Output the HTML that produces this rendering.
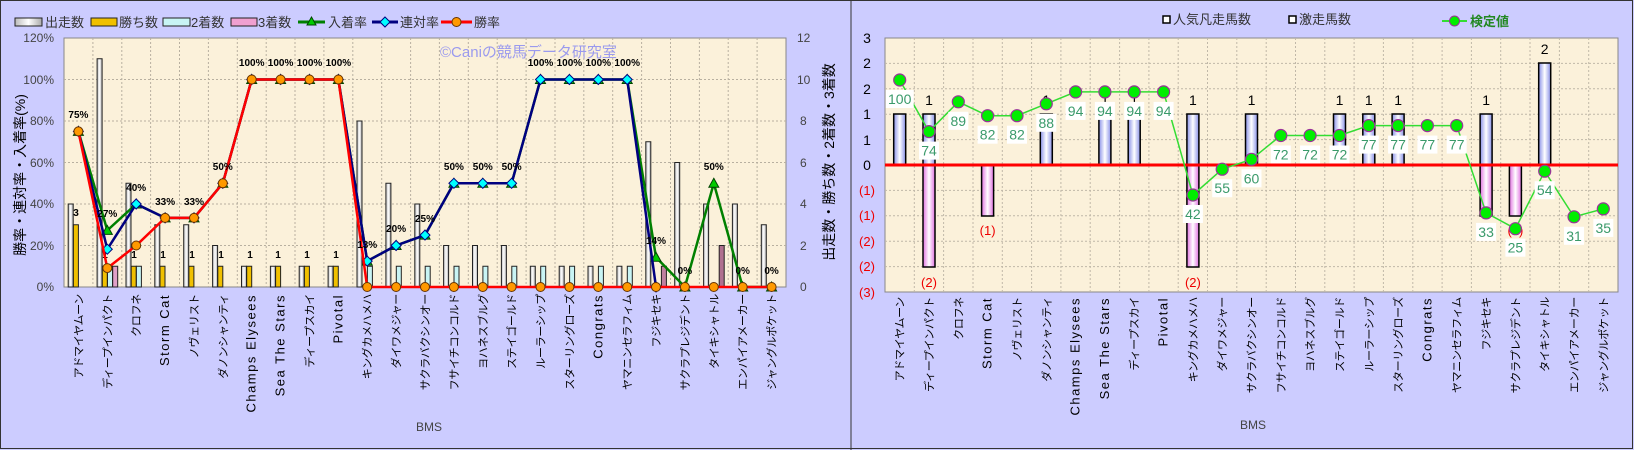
<!DOCTYPE html>
<html><head><meta charset="utf-8"><style>
html,body{margin:0;padding:0;background:#ccccff;}
svg{display:block;font-family:"Liberation Sans","Noto Sans CJK JP",sans-serif;}
.jp{font-size:11px;letter-spacing:-0.3px;}
.lt{font-size:13px;letter-spacing:1.5px;}
</style></head><body>
<svg width="1634" height="450" viewBox="0 0 1634 450" xmlns="http://www.w3.org/2000/svg">
<defs>
<linearGradient id="gw" x1="0" x2="1"><stop offset="0" stop-color="#bbb"/><stop offset="0.5" stop-color="#fff"/><stop offset="1" stop-color="#aaa"/></linearGradient>
<linearGradient id="gb" x1="0" x2="1"><stop offset="0" stop-color="#8890e8"/><stop offset="0.5" stop-color="#fff"/><stop offset="1" stop-color="#8890e8"/></linearGradient>
<linearGradient id="gp" x1="0" x2="1"><stop offset="0" stop-color="#e070e0"/><stop offset="0.5" stop-color="#fff"/><stop offset="1" stop-color="#e070e0"/></linearGradient>
<marker id="mt" markerWidth="12" markerHeight="12" refX="6" refY="6" markerUnits="userSpaceOnUse"><path d="M6,1 L11,10 L1,10 Z" fill="#00cc00" stroke="#004400" stroke-width="1"/></marker>
<marker id="md" markerWidth="12" markerHeight="12" refX="6" refY="6" markerUnits="userSpaceOnUse"><path d="M6,1 L11,6 L6,11 L1,6 Z" fill="#00ffff" stroke="#000080" stroke-width="1"/></marker>
<marker id="mc" markerWidth="12" markerHeight="12" refX="6" refY="6" markerUnits="userSpaceOnUse"><circle cx="6" cy="6" r="4.5" fill="#ff9900" stroke="#663300" stroke-width="1"/></marker>
<marker id="mg" markerWidth="16" markerHeight="16" refX="8" refY="8" markerUnits="userSpaceOnUse"><circle cx="8" cy="8" r="6" fill="#00ee00" stroke="#993399" stroke-width="1.2"/></marker>
</defs>
<rect x="0" y="0" width="1634" height="450" fill="#ccccff"/>
<rect x="0.5" y="0.5" width="1632" height="448" fill="none" stroke="#333" stroke-width="1"/>
<line x1="851" y1="0" x2="851" y2="450" stroke="#333"/>

<!-- LEFT CHART -->
<g font-size="13" fill="#333">
<rect x="15" y="18" width="27" height="8" fill="url(#gw)" stroke="#222"/><text x="45" y="27">出走数</text>
<rect x="91" y="18" width="26" height="8" fill="#f0c000" stroke="#222"/><text x="119" y="27">勝ち数</text>
<rect x="163" y="18" width="27" height="8" fill="#c8f4f4" stroke="#222"/><text x="191" y="27">2着数</text>
<rect x="231" y="18" width="26" height="8" fill="#f0a0d0" stroke="#222"/><text x="258" y="27">3着数</text>
<line x1="298" y1="22" x2="325" y2="22" stroke="#008000" stroke-width="3"/><path d="M311.5,17 L316,25 L307,25Z" fill="#00cc00" stroke="#004400"/><text x="328" y="27">入着率</text>
<line x1="372" y1="22" x2="398" y2="22" stroke="#000080" stroke-width="3"/><path d="M385,17 L390,22 L385,27 L380,22Z" fill="#00ffff" stroke="#000080"/><text x="400" y="27">連対率</text>
<line x1="441" y1="22" x2="472" y2="22" stroke="#ff0000" stroke-width="3"/><circle cx="456.5" cy="22" r="4.5" fill="#ff9900" stroke="#663300"/><text x="474" y="27">勝率</text>
</g>
<rect x="64" y="38" width="722" height="249" fill="#fbf1da" stroke="#888"/>
<g stroke="#b8b0a0" stroke-dasharray="2,2" stroke-width="1">
<line x1="64" y1="79.5" x2="786" y2="79.5"/><line x1="64" y1="121" x2="786" y2="121"/><line x1="64" y1="162.5" x2="786" y2="162.5"/><line x1="64" y1="204" x2="786" y2="204"/><line x1="64" y1="245.5" x2="786" y2="245.5"/>
<line x1="92.9" y1="38" x2="92.9" y2="287"/><line x1="121.8" y1="38" x2="121.8" y2="287"/><line x1="150.6" y1="38" x2="150.6" y2="287"/><line x1="179.5" y1="38" x2="179.5" y2="287"/><line x1="208.4" y1="38" x2="208.4" y2="287"/><line x1="237.3" y1="38" x2="237.3" y2="287"/><line x1="266.2" y1="38" x2="266.2" y2="287"/><line x1="295" y1="38" x2="295" y2="287"/><line x1="323.9" y1="38" x2="323.9" y2="287"/><line x1="352.8" y1="38" x2="352.8" y2="287"/><line x1="381.7" y1="38" x2="381.7" y2="287"/><line x1="410.6" y1="38" x2="410.6" y2="287"/><line x1="439.4" y1="38" x2="439.4" y2="287"/><line x1="468.3" y1="38" x2="468.3" y2="287"/><line x1="497.2" y1="38" x2="497.2" y2="287"/><line x1="526.1" y1="38" x2="526.1" y2="287"/><line x1="555" y1="38" x2="555" y2="287"/><line x1="583.8" y1="38" x2="583.8" y2="287"/><line x1="612.7" y1="38" x2="612.7" y2="287"/><line x1="641.6" y1="38" x2="641.6" y2="287"/><line x1="670.5" y1="38" x2="670.5" y2="287"/><line x1="699.4" y1="38" x2="699.4" y2="287"/><line x1="728.2" y1="38" x2="728.2" y2="287"/><line x1="757.1" y1="38" x2="757.1" y2="287"/>
</g>
<text x="440" y="57" font-size="15" fill="#9a9aee">©Caniの競馬データ研究室</text>
<g stroke="#222" stroke-width="1">
<g transform="translate(64,0)"><rect x="4.2" y="204" width="5" height="83" fill="url(#gw)"/><rect x="9.4" y="224.75" width="5" height="62.25" fill="#f0c000"/></g>
<g transform="translate(92.9,0)"><rect x="4.2" y="58.75" width="5" height="228.25" fill="url(#gw)"/><rect x="9.4" y="266.25" width="5" height="20.75" fill="#f0c000"/><rect x="14.6" y="266.25" width="5" height="20.75" fill="#c8f4f4"/><rect x="19.8" y="266.25" width="5" height="20.75" fill="#e0a0c8"/></g>
<g transform="translate(121.8,0)"><rect x="4.2" y="183.25" width="5" height="103.75" fill="url(#gw)"/><rect x="9.4" y="266.25" width="5" height="20.75" fill="#f0c000"/><rect x="14.6" y="266.25" width="5" height="20.75" fill="#c8f4f4"/></g>
<g transform="translate(150.6,0)"><rect x="4.2" y="224.75" width="5" height="62.25" fill="url(#gw)"/><rect x="9.4" y="266.25" width="5" height="20.75" fill="#f0c000"/></g>
<g transform="translate(179.5,0)"><rect x="4.2" y="224.75" width="5" height="62.25" fill="url(#gw)"/><rect x="9.4" y="266.25" width="5" height="20.75" fill="#f0c000"/></g>
<g transform="translate(208.4,0)"><rect x="4.2" y="245.5" width="5" height="41.5" fill="url(#gw)"/><rect x="9.4" y="266.25" width="5" height="20.75" fill="#f0c000"/></g>
<g transform="translate(237.3,0)"><rect x="4.2" y="266.25" width="5" height="20.75" fill="url(#gw)"/><rect x="9.4" y="266.25" width="5" height="20.75" fill="#f0c000"/></g>
<g transform="translate(266.2,0)"><rect x="4.2" y="266.25" width="5" height="20.75" fill="url(#gw)"/><rect x="9.4" y="266.25" width="5" height="20.75" fill="#f0c000"/></g>
<g transform="translate(295,0)"><rect x="4.2" y="266.25" width="5" height="20.75" fill="url(#gw)"/><rect x="9.4" y="266.25" width="5" height="20.75" fill="#f0c000"/></g>
<g transform="translate(323.9,0)"><rect x="4.2" y="266.25" width="5" height="20.75" fill="url(#gw)"/><rect x="9.4" y="266.25" width="5" height="20.75" fill="#f0c000"/></g>
<g transform="translate(352.8,0)"><rect x="4.2" y="121" width="5" height="166" fill="url(#gw)"/><rect x="14.6" y="266.25" width="5" height="20.75" fill="#c8f4f4"/></g>
<g transform="translate(381.7,0)"><rect x="4.2" y="183.25" width="5" height="103.75" fill="url(#gw)"/><rect x="14.6" y="266.25" width="5" height="20.75" fill="#c8f4f4"/></g>
<g transform="translate(410.6,0)"><rect x="4.2" y="204" width="5" height="83" fill="url(#gw)"/><rect x="14.6" y="266.25" width="5" height="20.75" fill="#c8f4f4"/></g>
<g transform="translate(439.4,0)"><rect x="4.2" y="245.5" width="5" height="41.5" fill="url(#gw)"/><rect x="14.6" y="266.25" width="5" height="20.75" fill="#c8f4f4"/></g>
<g transform="translate(468.3,0)"><rect x="4.2" y="245.5" width="5" height="41.5" fill="url(#gw)"/><rect x="14.6" y="266.25" width="5" height="20.75" fill="#c8f4f4"/></g>
<g transform="translate(497.2,0)"><rect x="4.2" y="245.5" width="5" height="41.5" fill="url(#gw)"/><rect x="14.6" y="266.25" width="5" height="20.75" fill="#c8f4f4"/></g>
<g transform="translate(526.1,0)"><rect x="4.2" y="266.25" width="5" height="20.75" fill="url(#gw)"/><rect x="14.6" y="266.25" width="5" height="20.75" fill="#c8f4f4"/></g>
<g transform="translate(555,0)"><rect x="4.2" y="266.25" width="5" height="20.75" fill="url(#gw)"/><rect x="14.6" y="266.25" width="5" height="20.75" fill="#c8f4f4"/></g>
<g transform="translate(583.8,0)"><rect x="4.2" y="266.25" width="5" height="20.75" fill="url(#gw)"/><rect x="14.6" y="266.25" width="5" height="20.75" fill="#c8f4f4"/></g>
<g transform="translate(612.7,0)"><rect x="4.2" y="266.25" width="5" height="20.75" fill="url(#gw)"/><rect x="14.6" y="266.25" width="5" height="20.75" fill="#c8f4f4"/></g>
<g transform="translate(641.6,0)"><rect x="4.2" y="141.75" width="5" height="145.25" fill="url(#gw)"/><rect x="19.8" y="266.25" width="5" height="20.75" fill="#c080a0"/></g>
<g transform="translate(670.5,0)"><rect x="4.2" y="162.5" width="5" height="124.5" fill="url(#gw)"/></g>
<g transform="translate(699.4,0)"><rect x="4.2" y="204" width="5" height="83" fill="url(#gw)"/><rect x="19.8" y="245.5" width="5" height="41.5" fill="#b07090"/></g>
<g transform="translate(728.2,0)"><rect x="4.2" y="204" width="5" height="83" fill="url(#gw)"/></g>
<g transform="translate(757.1,0)"><rect x="4.2" y="224.75" width="5" height="62.25" fill="url(#gw)"/></g>
</g>
<g font-size="10" font-weight="bold" fill="#000" text-anchor="middle">
<text x="76" y="216">3</text>
<text x="105" y="258">1</text><text x="134" y="258">1</text><text x="163" y="258">1</text><text x="192" y="258">1</text><text x="221" y="258">1</text><text x="250" y="258">1</text><text x="278" y="258">1</text><text x="307" y="258">1</text><text x="336" y="258">1</text>
</g>
<polyline fill="none" stroke="#008000" stroke-width="2.5" marker-start="url(#mt)" marker-mid="url(#mt)" marker-end="url(#mt)" points="78.4,131.4 107.3,230.4 136.2,204 165.1,217.9 194,217.9 222.8,183.3 251.7,79.5 280.6,79.5 309.5,79.5 338.4,79.5 367.2,261.1 396.1,245.5 425,235.1 453.9,183.3 482.8,183.3 511.6,183.3 540.5,79.5 569.4,79.5 598.3,79.5 627.2,79.5 656,257.3 684.9,287 713.8,183.3 742.7,287 771.6,287"/>
<polyline fill="none" stroke="#000080" stroke-width="2.5" marker-start="url(#md)" marker-mid="url(#md)" marker-end="url(#md)" points="78.4,131.4 107.3,249.2 136.2,204 165.1,217.9 194,217.9 222.8,183.3 251.7,79.5 280.6,79.5 309.5,79.5 338.4,79.5 367.2,261.1 396.1,245.5 425,235.1 453.9,183.3 482.8,183.3 511.6,183.3 540.5,79.5 569.4,79.5 598.3,79.5 627.2,79.5 656,287"/>
<polyline fill="none" stroke="#ff0000" stroke-width="2.5" marker-start="url(#mc)" marker-mid="url(#mc)" marker-end="url(#mc)" points="78.4,131.4 107.3,268.1 136.2,245.5 165.1,217.9 194,217.9 222.8,183.3 251.7,79.5 280.6,79.5 309.5,79.5 338.4,79.5 367.2,287 396.1,287 425,287 453.9,287 482.8,287 511.6,287 540.5,287 569.4,287 598.3,287 627.2,287 656,287 684.9,287 713.8,287 742.7,287 771.6,287"/>
<g font-size="10" font-weight="bold" fill="#000" text-anchor="middle">
<text x="78.4" y="118">75%</text><text x="107.3" y="217">27%</text><text x="136.2" y="191">40%</text><text x="165.1" y="205">33%</text><text x="194" y="205">33%</text><text x="222.8" y="170">50%</text>
<text x="251.7" y="66">100%</text><text x="280.6" y="66">100%</text><text x="309.5" y="66">100%</text><text x="338.4" y="66">100%</text>
<text x="367.2" y="248">13%</text><text x="396.1" y="232">20%</text><text x="425" y="222">25%</text><text x="453.9" y="170">50%</text><text x="482.8" y="170">50%</text><text x="511.6" y="170">50%</text>
<text x="540.5" y="66">100%</text><text x="569.4" y="66">100%</text><text x="598.3" y="66">100%</text><text x="627.2" y="66">100%</text>
<text x="656" y="244">14%</text><text x="684.9" y="274">0%</text><text x="713.8" y="170">50%</text><text x="742.7" y="274">0%</text><text x="771.6" y="274">0%</text>
</g>
<g font-size="12" fill="#444" text-anchor="end">
<text x="54" y="42">120%</text><text x="54" y="84">100%</text><text x="54" y="125">80%</text><text x="54" y="167">60%</text><text x="54" y="208">40%</text><text x="54" y="250">20%</text><text x="54" y="291">0%</text>
</g>
<g font-size="12" fill="#444">
<text x="797" y="42">12</text><text x="797" y="84">10</text><text x="800" y="125">8</text><text x="800" y="167">6</text><text x="800" y="208">4</text><text x="800" y="250">2</text><text x="800" y="291">0</text>
</g>
<text transform="translate(25,175) rotate(-90)" font-size="14" text-anchor="middle" fill="#000">勝率・連対率・入着率(%)</text>
<text transform="translate(834,162) rotate(-90)" font-size="14" text-anchor="middle" fill="#000">出走数・勝ち数・2着数・3着数</text>
<g fill="#000" text-anchor="end">
<text class="jp" transform="translate(82.4,294) rotate(-90)">アドマイヤムーン</text>
<text class="jp" transform="translate(111.3,294) rotate(-90)">ディープインパクト</text>
<text class="jp" transform="translate(140.2,294) rotate(-90)">クロフネ</text>
<text class="lt" transform="translate(169.1,294) rotate(-90)">Storm  Cat</text>
<text class="jp" transform="translate(198,294) rotate(-90)">ノヴェリスト</text>
<text class="jp" transform="translate(226.8,294) rotate(-90)">ダノンシャンティ</text>
<text class="lt" transform="translate(255.7,294) rotate(-90)">Champs  Elysees</text>
<text class="lt" transform="translate(284.6,294) rotate(-90)">Sea  The  Stars</text>
<text class="jp" transform="translate(313.5,294) rotate(-90)">ディープスカイ</text>
<text class="lt" transform="translate(342.4,294) rotate(-90)">Pivotal</text>
<text class="jp" transform="translate(371.2,294) rotate(-90)">キングカメハメハ</text>
<text class="jp" transform="translate(400.1,294) rotate(-90)">ダイワメジャー</text>
<text class="jp" transform="translate(429,294) rotate(-90)">サクラバクシンオー</text>
<text class="jp" transform="translate(457.9,294) rotate(-90)">フサイチコンコルド</text>
<text class="jp" transform="translate(486.8,294) rotate(-90)">ヨハネスブルグ</text>
<text class="jp" transform="translate(515.6,294) rotate(-90)">ステイゴールド</text>
<text class="jp" transform="translate(544.5,294) rotate(-90)">ルーラーシップ</text>
<text class="jp" transform="translate(573.4,294) rotate(-90)">スターリングローズ</text>
<text class="lt" transform="translate(602.3,294) rotate(-90)">Congrats</text>
<text class="jp" transform="translate(631.2,294) rotate(-90)">ヤマニンセラフィム</text>
<text class="jp" transform="translate(660,294) rotate(-90)">フジキセキ</text>
<text class="jp" transform="translate(688.9,294) rotate(-90)">サクラプレジデント</text>
<text class="jp" transform="translate(717.8,294) rotate(-90)">タイキシャトル</text>
<text class="jp" transform="translate(746.7,294) rotate(-90)">エンパイアメーカー</text>
<text class="jp" transform="translate(775.6,294) rotate(-90)">ジャングルポケット</text>
</g>
<text x="429" y="431" font-size="12" fill="#444" text-anchor="middle">BMS</text>

<!-- RIGHT CHART -->
<g font-size="13" fill="#333">
<rect x="1163" y="16" width="7" height="7" fill="#fff" stroke="#000" stroke-width="1.5"/><text x="1173" y="24">人気凡走馬数</text>
<rect x="1289" y="16" width="7" height="7" fill="#fff" stroke="#000" stroke-width="1.5"/><text x="1299" y="24">激走馬数</text>
<line x1="1442" y1="21" x2="1467" y2="21" stroke="#33dd33" stroke-width="2"/><circle cx="1454.5" cy="21" r="5" fill="#00ee00" stroke="#993399"/><text x="1470" y="26" fill="#228822" font-weight="bold">検定値</text>
</g>
<rect x="885" y="38" width="733" height="254" fill="#fbf1da" stroke="#888"/>
<g stroke="#c0b8a8" stroke-dasharray="2,2" stroke-width="1">
<line x1="885" y1="63.4" x2="1618" y2="63.4"/><line x1="885" y1="88.8" x2="1618" y2="88.8"/><line x1="885" y1="114.2" x2="1618" y2="114.2"/><line x1="885" y1="139.6" x2="1618" y2="139.6"/><line x1="885" y1="190.4" x2="1618" y2="190.4"/><line x1="885" y1="215.8" x2="1618" y2="215.8"/><line x1="885" y1="241.2" x2="1618" y2="241.2"/><line x1="885" y1="266.6" x2="1618" y2="266.6"/>
<line x1="914.3" y1="38" x2="914.3" y2="292"/><line x1="943.6" y1="38" x2="943.6" y2="292"/><line x1="973" y1="38" x2="973" y2="292"/><line x1="1002.3" y1="38" x2="1002.3" y2="292"/><line x1="1031.6" y1="38" x2="1031.6" y2="292"/><line x1="1060.9" y1="38" x2="1060.9" y2="292"/><line x1="1090.2" y1="38" x2="1090.2" y2="292"/><line x1="1119.6" y1="38" x2="1119.6" y2="292"/><line x1="1148.9" y1="38" x2="1148.9" y2="292"/><line x1="1178.2" y1="38" x2="1178.2" y2="292"/><line x1="1207.5" y1="38" x2="1207.5" y2="292"/><line x1="1236.8" y1="38" x2="1236.8" y2="292"/><line x1="1266.2" y1="38" x2="1266.2" y2="292"/><line x1="1295.5" y1="38" x2="1295.5" y2="292"/><line x1="1324.8" y1="38" x2="1324.8" y2="292"/><line x1="1354.1" y1="38" x2="1354.1" y2="292"/><line x1="1383.4" y1="38" x2="1383.4" y2="292"/><line x1="1412.8" y1="38" x2="1412.8" y2="292"/><line x1="1442.1" y1="38" x2="1442.1" y2="292"/><line x1="1471.4" y1="38" x2="1471.4" y2="292"/><line x1="1500.7" y1="38" x2="1500.7" y2="292"/><line x1="1530" y1="38" x2="1530" y2="292"/><line x1="1559.4" y1="38" x2="1559.4" y2="292"/><line x1="1588.7" y1="38" x2="1588.7" y2="292"/>
</g>
<g font-size="14" fill="#000" text-anchor="middle">
<text x="867" y="43">3</text><text x="867" y="68">2</text><text x="867" y="94">2</text><text x="867" y="119">1</text><text x="867" y="145">1</text><text x="867" y="170">0</text>
</g>
<g font-size="13" fill="#ee0000" text-anchor="middle">
<text x="867" y="195">(1)</text><text x="867" y="220">(1)</text><text x="867" y="246">(2)</text><text x="867" y="271">(2)</text><text x="867" y="297">(3)</text>
</g>
<g stroke="#000" stroke-width="1.5">
<rect x="893.7" y="114" width="12" height="51" fill="url(#gb)"/>
<rect x="923" y="114" width="12" height="51" fill="url(#gb)"/>
<rect x="1040.3" y="114" width="12" height="51" fill="url(#gb)"/>
<rect x="1098.9" y="114" width="12" height="51" fill="url(#gb)"/>
<rect x="1128.2" y="114" width="12" height="51" fill="url(#gb)"/>
<rect x="1186.9" y="114" width="12" height="51" fill="url(#gb)"/>
<rect x="1245.5" y="114" width="12" height="51" fill="url(#gb)"/>
<rect x="1333.5" y="114" width="12" height="51" fill="url(#gb)"/>
<rect x="1362.8" y="114" width="12" height="51" fill="url(#gb)"/>
<rect x="1392.1" y="114" width="12" height="51" fill="url(#gb)"/>
<rect x="1480.1" y="114" width="12" height="51" fill="url(#gb)"/>
<rect x="1538.7" y="63" width="12" height="102" fill="url(#gb)"/>
<rect x="923" y="165" width="12" height="102" fill="url(#gp)"/>
<rect x="981.6" y="165" width="12" height="51" fill="url(#gp)"/>
<rect x="1186.9" y="165" width="12" height="102" fill="url(#gp)"/>
<rect x="1480.1" y="165" width="12" height="51" fill="url(#gp)"/>
<rect x="1509.4" y="165" width="12" height="51" fill="url(#gp)"/>
</g>
<line x1="885" y1="165" x2="1618" y2="165" stroke="#ff0000" stroke-width="3"/>
<g font-size="14" fill="#000" text-anchor="middle">
<text x="929" y="105">1</text><text x="1046.3" y="105">1</text><text x="1104.9" y="105">1</text><text x="1134.2" y="105">1</text><text x="1192.9" y="105">1</text><text x="1251.5" y="105">1</text><text x="1339.5" y="105">1</text><text x="1368.8" y="105">1</text><text x="1398.1" y="105">1</text><text x="1486.1" y="105">1</text><text x="1544.7" y="54">2</text>
</g>
<g font-size="13" fill="#ee0000" text-anchor="middle">
<text x="929" y="287">(2)</text><text x="987.6" y="235">(1)</text><text x="1192.9" y="287">(2)</text><text x="1486.1" y="235">(1)</text><text x="1515.4" y="235">(1)</text>
</g>
<polyline fill="none" stroke="#33dd33" stroke-width="1.5" marker-start="url(#mg)" marker-mid="url(#mg)" marker-end="url(#mg)" points="899.7,80 929,131.6 958.3,101.8 987.6,115.7 1017,115.7 1046.3,103.8 1075.6,91.9 1104.9,91.9 1134.2,91.9 1163.6,91.9 1192.9,195 1222.2,169.2 1251.5,159.3 1280.8,135.5 1310.1,135.5 1339.5,135.5 1368.8,125.6 1398.1,125.6 1427.4,125.6 1456.7,125.6 1486.1,212.9 1515.4,228.7 1544.7,171.2 1574,216.8 1603.3,208.9"/>
<g fill="#fff">
<rect x="885.7" y="90" width="28" height="18"/><rect x="919" y="141.6" width="20" height="18"/><rect x="948.3" y="111.8" width="20" height="18"/><rect x="977.6" y="125.7" width="20" height="18"/><rect x="1007" y="125.7" width="20" height="18"/><rect x="1036.3" y="113.8" width="20" height="18"/><rect x="1065.6" y="101.9" width="20" height="18"/><rect x="1094.9" y="101.9" width="20" height="18"/><rect x="1124.2" y="101.9" width="20" height="18"/><rect x="1153.6" y="101.9" width="20" height="18"/><rect x="1182.9" y="205" width="20" height="18"/><rect x="1212.2" y="179.2" width="20" height="18"/><rect x="1241.5" y="169.3" width="20" height="18"/><rect x="1270.8" y="145.5" width="20" height="18"/><rect x="1300.1" y="145.5" width="20" height="18"/><rect x="1329.5" y="145.5" width="20" height="18"/><rect x="1358.8" y="135.6" width="20" height="18"/><rect x="1388.1" y="135.6" width="20" height="18"/><rect x="1417.4" y="135.6" width="20" height="18"/><rect x="1446.7" y="135.6" width="20" height="18"/><rect x="1476.1" y="222.9" width="20" height="18"/><rect x="1505.4" y="238.7" width="20" height="18"/><rect x="1534.7" y="181.2" width="20" height="18"/><rect x="1564" y="226.8" width="20" height="18"/><rect x="1593.3" y="218.9" width="20" height="18"/>
</g>
<g font-size="14" fill="#3a9a6a" text-anchor="middle">
<text x="899.7" y="104">100</text><text x="929" y="155.6">74</text><text x="958.3" y="125.8">89</text><text x="987.6" y="139.7">82</text><text x="1017" y="139.7">82</text><text x="1046.3" y="127.8">88</text><text x="1075.6" y="115.9">94</text><text x="1104.9" y="115.9">94</text><text x="1134.2" y="115.9">94</text><text x="1163.6" y="115.9">94</text><text x="1192.9" y="219">42</text><text x="1222.2" y="193.2">55</text><text x="1251.5" y="183.3">60</text><text x="1280.8" y="159.5">72</text><text x="1310.1" y="159.5">72</text><text x="1339.5" y="159.5">72</text><text x="1368.8" y="149.6">77</text><text x="1398.1" y="149.6">77</text><text x="1427.4" y="149.6">77</text><text x="1456.7" y="149.6">77</text><text x="1486.1" y="236.9">33</text><text x="1515.4" y="252.7">25</text><text x="1544.7" y="195.2">54</text><text x="1574" y="240.8">31</text><text x="1603.3" y="232.9">35</text>
</g>
<g fill="#000" text-anchor="end">
<text class="jp" transform="translate(903.7,297) rotate(-90)">アドマイヤムーン</text>
<text class="jp" transform="translate(933,297) rotate(-90)">ディープインパクト</text>
<text class="jp" transform="translate(962.3,297) rotate(-90)">クロフネ</text>
<text class="lt" transform="translate(991.6,297) rotate(-90)">Storm  Cat</text>
<text class="jp" transform="translate(1021,297) rotate(-90)">ノヴェリスト</text>
<text class="jp" transform="translate(1050.3,297) rotate(-90)">ダノンシャンティ</text>
<text class="lt" transform="translate(1079.6,297) rotate(-90)">Champs  Elysees</text>
<text class="lt" transform="translate(1108.9,297) rotate(-90)">Sea  The  Stars</text>
<text class="jp" transform="translate(1138.2,297) rotate(-90)">ディープスカイ</text>
<text class="lt" transform="translate(1167.6,297) rotate(-90)">Pivotal</text>
<text class="jp" transform="translate(1196.9,297) rotate(-90)">キングカメハメハ</text>
<text class="jp" transform="translate(1226.2,297) rotate(-90)">ダイワメジャー</text>
<text class="jp" transform="translate(1255.5,297) rotate(-90)">サクラバクシンオー</text>
<text class="jp" transform="translate(1284.8,297) rotate(-90)">フサイチコンコルド</text>
<text class="jp" transform="translate(1314.1,297) rotate(-90)">ヨハネスブルグ</text>
<text class="jp" transform="translate(1343.5,297) rotate(-90)">ステイゴールド</text>
<text class="jp" transform="translate(1372.8,297) rotate(-90)">ルーラーシップ</text>
<text class="jp" transform="translate(1402.1,297) rotate(-90)">スターリングローズ</text>
<text class="lt" transform="translate(1431.4,297) rotate(-90)">Congrats</text>
<text class="jp" transform="translate(1460.7,297) rotate(-90)">ヤマニンセラフィム</text>
<text class="jp" transform="translate(1490.1,297) rotate(-90)">フジキセキ</text>
<text class="jp" transform="translate(1519.4,297) rotate(-90)">サクラプレジデント</text>
<text class="jp" transform="translate(1548.7,297) rotate(-90)">タイキシャトル</text>
<text class="jp" transform="translate(1578,297) rotate(-90)">エンパイアメーカー</text>
<text class="jp" transform="translate(1607.3,297) rotate(-90)">ジャングルポケット</text>
</g>
<text x="1253" y="429" font-size="12" fill="#444" text-anchor="middle">BMS</text>
</svg>
</body></html>
